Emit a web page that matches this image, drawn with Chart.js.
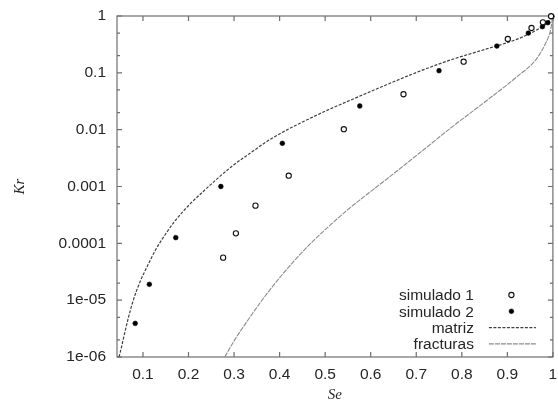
<!DOCTYPE html>
<html>
<head>
<meta charset="utf-8">
<script src="https://cdn.jsdelivr.net/npm/chart.js@4/dist/chart.umd.min.js"></script>
<style>
html,body{margin:0;padding:0;background:#fff;}
#wrap{width:558px;height:406px;position:relative;}
</style>
</head>
<body>
<div id="wrap"><canvas id="c"></canvas></div>
<script>
// ---- data ----
const seriesNames = ['simulado 1', 'simulado 2', 'matriz', 'fracturas'];

const sim1Se = [0.276, 0.304, 0.347, 0.420, 0.541, 0.672, 0.804, 0.901, 0.953, 0.978, 0.996];
const sim1Kr = [5.6e-5, 1.5e-4, 4.6e-4, 1.55e-3, 0.0102, 0.042, 0.157, 0.394, 0.615, 0.775, 0.99];

const sim2Se = [0.083, 0.114, 0.172, 0.271, 0.406, 0.576, 0.750, 0.877, 0.946, 0.977, 0.989, 0.998];
const sim2Kr = [3.9e-6, 1.9e-5, 1.26e-4, 1.0e-3, 5.75e-3, 0.0261, 0.109, 0.296, 0.50, 0.649, 0.762, 0.98];

const matrizSe = [0.0474, 0.0496, 0.0584, 0.0678, 0.0788, 0.0934, 0.1088, 0.1263, 0.1482, 0.1701, 0.1992, 0.2358, 0.2942, 0.3343, 0.3818, 0.4729, 0.5751, 0.7065, 0.7788, 0.8532, 0.9255, 0.9758, 0.989, 0.995, 1.0];
const matrizKr = [1e-6, 1.16e-6, 2.34e-6, 4.85e-6, 1.0e-5, 2.09e-5, 3.84e-5, 7.33e-5, 1.40e-4, 2.47e-4, 4.54e-4, 8.69e-4, 2.23e-3, 3.81e-3, 6.93e-3, 0.0167, 0.0386, 0.106, 0.172, 0.262, 0.402, 0.641, 0.769, 0.92, 1.0];

const fractSe = [0.2796, 0.3014, 0.3306, 0.3671, 0.4037, 0.440, 0.4766, 0.5132, 0.5495, 0.5861, 0.6227, 0.659, 0.7065, 0.7794, 0.8526, 0.9255, 0.962, 0.984, 0.995, 1.0];
const fractKr = [1e-6, 2.0e-6, 4.47e-6, 1.15e-5, 2.69e-5, 5.8e-5, 1.16e-4, 2.17e-4, 3.9e-4, 6.7e-4, 1.13e-3, 1.91e-3, 3.84e-3, 0.0113, 0.0316, 0.0912, 0.168, 0.331, 0.568, 1.0];

const xTickValues = [0.1, 0.2, 0.3, 0.4, 0.5, 0.6, 0.7, 0.8, 0.9, 1];
const xTickLabels = ['0.1', '0.2', '0.3', '0.4', '0.5', '0.6', '0.7', '0.8', '0.9', '1'];
const yTickValues = [1e-6, 1e-5, 1e-4, 1e-3, 1e-2, 1e-1, 1];
const yTickLabels = ['1e-06', '1e-05', '0.0001', '0.001', '0.01', '0.1', '1'];
const yMinorValues = [2e-6, 5e-6, 2e-5, 5e-5, 2e-4, 5e-4, 2e-3, 5e-3, 2e-2, 5e-2, 0.2, 0.5];

const xAxisTitle = 'Se';
const yAxisTitle = 'Kr';

// ---- helpers ----
const toPoints = (xs, ys) => xs.map((v, i) => ({ x: v, y: ys[i] }));
const FONT = '"Liberation Sans", Arial, sans-serif';
const SERIF = '"Liberation Serif", "Times New Roman", serif';
const TEXT = '#262626';

const zeroPad = s => { s.paddingTop = 0; s.paddingBottom = 0; s.paddingLeft = 0; s.paddingRight = 0; };

const frameAndTicks = {
  id: 'frameAndTicks',
  beforeDatasetsDraw(chart) {
    const { ctx, chartArea: a, scales: { x, y } } = chart;
    ctx.save();
    ctx.strokeStyle = '#6f6f6f';
    ctx.lineWidth = 1.2;
    ctx.strokeRect(a.left, a.top, a.right - a.left, a.bottom - a.top);
    ctx.beginPath();
    xTickValues.forEach(v => {
      const p = x.getPixelForValue(v);
      ctx.moveTo(p, a.bottom); ctx.lineTo(p, a.bottom - 5);
      ctx.moveTo(p, a.top); ctx.lineTo(p, a.top + 5);
    });
    yTickValues.forEach(v => {
      const p = y.getPixelForValue(v);
      ctx.moveTo(a.left, p); ctx.lineTo(a.left + 5, p);
      ctx.moveTo(a.right, p); ctx.lineTo(a.right - 5, p);
    });
    yMinorValues.forEach(v => {
      const p = y.getPixelForValue(v);
      ctx.moveTo(a.left, p); ctx.lineTo(a.left + 3, p);
      ctx.moveTo(a.right, p); ctx.lineTo(a.right - 3, p);
    });
    ctx.stroke();
    ctx.restore();
  }
};

const insideLegend = {
  id: 'insideLegend',
  afterDraw(chart) {
    const { ctx, chartArea: a } = chart;
    const textRight = a.right - 79;
    const symX = a.right - 41.5;
    const lineL = a.right - 64, lineR = a.right - 17;
    const top = a.bottom - 62;
    const step = 16.3;
    ctx.save();
    ctx.font = '15.5px ' + FONT;
    ctx.textAlign = 'right';
    ctx.textBaseline = 'middle';
    chart.data.datasets.forEach((ds, i) => {
      const yy = top + i * step;
      ctx.fillStyle = TEXT;
      ctx.fillText(ds.label, textRight, yy + 1);
      if (ds.showLine) {
        ctx.strokeStyle = ds.borderColor;
        ctx.lineWidth = ds.borderWidth;
        ctx.setLineDash(ds.borderDash || []);
        ctx.beginPath();
        ctx.moveTo(lineL, yy); ctx.lineTo(lineR, yy);
        ctx.stroke();
        ctx.setLineDash([]);
      } else {
        ctx.beginPath();
        ctx.arc(symX, yy, ds.pointRadius, 0, Math.PI * 2);
        ctx.fillStyle = ds.pointBackgroundColor;
        ctx.fill();
        ctx.strokeStyle = ds.pointBorderColor;
        ctx.lineWidth = ds.pointBorderWidth;
        ctx.stroke();
      }
    });
    ctx.restore();
  }
};

new Chart(document.getElementById('c'), {
  type: 'scatter',
  data: {
    datasets: [
      {
        label: seriesNames[0],
        data: toPoints(sim1Se, sim1Kr),
        pointRadius: 2.6,
        pointBackgroundColor: '#ffffff',
        pointBorderColor: '#111',
        pointBorderWidth: 1.1,
        showLine: false,
        clip: false
      },
      {
        label: seriesNames[1],
        data: toPoints(sim2Se, sim2Kr),
        pointRadius: 2.4,
        pointBackgroundColor: '#000',
        pointBorderColor: '#000',
        pointBorderWidth: 0.5,
        showLine: false,
        clip: false
      },
      {
        label: seriesNames[2],
        data: toPoints(matrizSe, matrizKr),
        showLine: true,
        pointRadius: 0,
        borderColor: '#404040',
        borderWidth: 1.2,
        borderDash: [3, 1.5],
        cubicInterpolationMode: 'monotone',
        fill: false
      },
      {
        label: seriesNames[3],
        data: toPoints(fractSe, fractKr),
        showLine: true,
        pointRadius: 0,
        borderColor: '#8c8c8c',
        borderWidth: 1.1,
        borderDash: [5, 1],
        cubicInterpolationMode: 'monotone',
        fill: false
      }
    ]
  },
  options: {
    responsive: true,
    maintainAspectRatio: false,
    animation: false,
    layout: { padding: { left: 0, right: 5, top: 16, bottom: 0 } },
    plugins: {
      legend: { display: false },
      tooltip: { enabled: false }
    },
    scales: {
      x: {
        type: 'linear',
        min: 0.043,
        max: 1,
        afterBuildTicks: s => { s.ticks = xTickValues.map(v => ({ value: v })); },
        afterFit: s => { s.height = 49; zeroPad(s); },
        grid: { display: false, drawTicks: false },
        border: { display: false },
        ticks: {
          autoSkip: false,
          maxRotation: 0,
          padding: 8,
          color: TEXT,
          font: { family: FONT, size: 15.5 },
          callback: (v, i) => xTickLabels[i]
        },
        title: {
          display: true,
          text: xAxisTitle,
          color: TEXT,
          font: { family: SERIF, style: 'italic', size: 15 },
          padding: { top: 0, bottom: 2 }
        }
      },
      y: {
        type: 'logarithmic',
        min: 1e-6,
        max: 1,
        afterBuildTicks: s => { s.ticks = yTickValues.map(v => ({ value: v })); },
        afterFit: s => { s.width = 117; zeroPad(s); },
        grid: { display: false, drawTicks: false },
        border: { display: false },
        ticks: {
          autoSkip: false,
          padding: 11,
          color: TEXT,
          font: { family: FONT, size: 15.5 },
          callback: (v, i) => yTickLabels[i]
        },
        title: {
          display: true,
          text: yAxisTitle,
          color: TEXT,
          font: { family: SERIF, style: 'italic', size: 15 },
          padding: { top: 11, bottom: 0 }
        }
      }
    }
  },
  plugins: [frameAndTicks, insideLegend]
});
</script>
</body>
</html>
